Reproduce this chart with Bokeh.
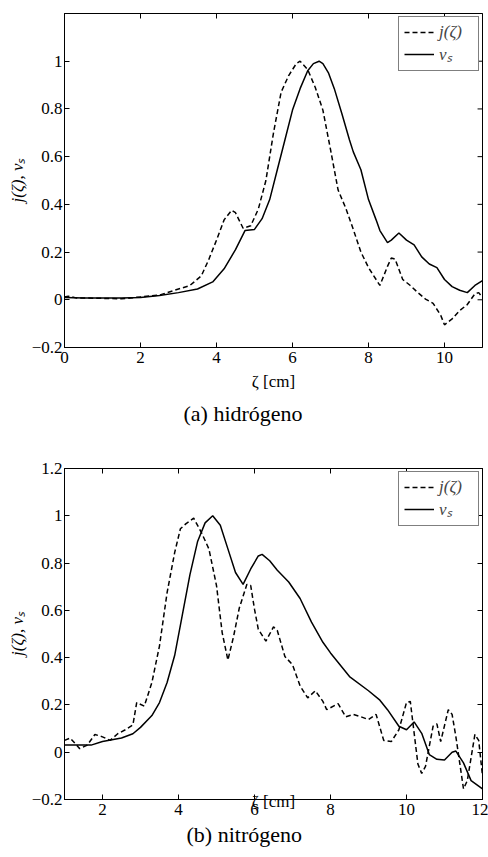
from bokeh.plotting import figure
from bokeh.models import LinearAxis, FixedTicker, Range1d, Title, Legend, LegendItem
from bokeh.layouts import column
from bokeh.embed import file_html
from bokeh.resources import INLINE

# ---------------- data: (a) hidrógeno ----------------
xv_a = [0, 0.5, 1, 1.5, 2, 2.5, 3, 3.5, 3.9, 4.2, 4.5, 4.75, 5.0, 5.2, 5.4, 5.6, 5.8, 6.0,
        6.2, 6.4, 6.55, 6.7, 6.8, 6.95, 7.1, 7.3, 7.5, 7.6, 7.8, 8.0, 8.2, 8.3, 8.5, 8.6, 8.8,
        9.0, 9.2, 9.4, 9.6, 9.8, 10.0, 10.2, 10.4, 10.6, 10.8, 11.0]
yv_a = [0.01, 0.008, 0.008, 0.008, 0.01, 0.018, 0.03, 0.045, 0.075, 0.13, 0.21, 0.29, 0.295,
        0.34, 0.42, 0.545, 0.67, 0.795, 0.885, 0.96, 0.99, 1.0, 0.99, 0.95, 0.885, 0.78, 0.67,
        0.62, 0.545, 0.42, 0.335, 0.29, 0.24, 0.25, 0.28, 0.25, 0.23, 0.18, 0.15, 0.135, 0.085,
        0.055, 0.04, 0.03, 0.06, 0.08]
xj_a = [0, 0.1, 0.3, 1, 1.5, 2, 2.5, 3.0, 3.3, 3.6, 3.8, 4.0, 4.2, 4.4, 4.5, 4.7, 4.9, 5.1,
        5.3, 5.5, 5.7, 5.9, 6.1, 6.2, 6.4, 6.6, 6.8, 7.0, 7.2, 7.4, 7.6, 7.8, 8.0, 8.2, 8.3,
        8.5, 8.6, 8.7, 8.9, 9.1, 9.3, 9.5, 9.7, 9.9, 10.0, 10.2, 10.4, 10.6, 10.8, 10.9, 11.0]
yj_a = [0.012, 0.015, 0.008, 0.006, 0.004, 0.012, 0.02, 0.045, 0.06, 0.1, 0.17, 0.25, 0.335,
        0.375, 0.365, 0.3, 0.31, 0.38, 0.5, 0.7, 0.87, 0.94, 0.99, 1.0, 0.965, 0.89, 0.795,
        0.63, 0.46, 0.385, 0.295, 0.2, 0.135, 0.085, 0.06, 0.14, 0.175, 0.17, 0.085, 0.06,
        0.03, 0.003, -0.015, -0.065, -0.105, -0.08, -0.045, -0.02, 0.025, 0.03, 0.01]

# ---------------- data: (b) nitrógeno ----------------
xv_b = [1, 1.5, 1.7, 2.0, 2.5, 2.8, 3.0, 3.3, 3.5, 3.7, 3.9, 4.1, 4.3, 4.5, 4.7, 4.9, 5.1,
        5.3, 5.5, 5.7, 5.9, 6.1, 6.2, 6.4, 6.6, 6.9, 7.2, 7.5, 7.8, 8.0, 8.5, 9.0, 9.3, 9.5,
        9.8, 10.0, 10.2, 10.4, 10.6, 10.8, 11.0, 11.2, 11.3, 11.5, 11.7, 12.0]
yv_b = [0.03, 0.03, 0.03, 0.045, 0.06, 0.078, 0.105, 0.155, 0.21, 0.295, 0.41, 0.58, 0.75,
        0.89, 0.97, 1.0, 0.96, 0.86, 0.76, 0.71, 0.775, 0.83, 0.837, 0.81, 0.77, 0.72, 0.65,
        0.55, 0.465, 0.42, 0.32, 0.26, 0.22, 0.18, 0.11, 0.095, 0.128, 0.08, -0.01, -0.03,
        -0.033, 0.0, 0.005, -0.045, -0.12, -0.155]
xj_b = [1.0, 1.15, 1.4, 1.6, 1.8, 2.0, 2.2, 2.4, 2.6, 2.8, 2.9, 3.1, 3.3, 3.5, 3.7, 3.9, 4.05,
        4.2, 4.4, 4.6, 4.8, 5.0, 5.15, 5.3, 5.45, 5.6, 5.8, 5.9, 6.0, 6.1, 6.3, 6.5, 6.6, 6.8,
        7.0, 7.2, 7.4, 7.6, 7.8, 7.9, 8.2, 8.4, 8.6, 8.8, 9.0, 9.2, 9.4, 9.6, 9.8, 10.0, 10.1,
        10.3, 10.4, 10.5, 10.7, 10.8, 10.9, 11.1, 11.2, 11.3, 11.5, 11.6, 11.8, 11.9, 12.0]
yj_b = [0.05, 0.06, 0.015, 0.03, 0.075, 0.065, 0.05, 0.078, 0.095, 0.115, 0.21, 0.195, 0.295,
        0.45, 0.675, 0.845, 0.945, 0.967, 0.99, 0.93, 0.86, 0.705, 0.505, 0.39, 0.49, 0.61,
        0.71, 0.705, 0.605, 0.52, 0.47, 0.53, 0.515, 0.405, 0.37, 0.28, 0.23, 0.26, 0.215,
        0.18, 0.205, 0.15, 0.16, 0.15, 0.138, 0.16, 0.05, 0.045, 0.095, 0.21, 0.215, -0.05,
        -0.09, -0.06, 0.11, 0.12, 0.045, 0.18, 0.16, 0.065, -0.155, -0.12, 0.075, 0.05, -0.1]

xticks_a = [0, 2, 4, 6, 8, 10]
yticks_a = [-0.2, 0, 0.2, 0.4, 0.6, 0.8, 1.0]
xticks_b = [2, 4, 6, 8, 10, 12]
yticks_b = [-0.2, 0, 0.2, 0.4, 0.6, 0.8, 1.0, 1.2]

label_j = "j(ζ)"
label_v = "vₛ"
ylabel = "j(ζ), vₛ"
xlabel = "ζ [cm]"
caption_a = "(a) hidrógeno"
caption_b = "(b) nitrógeno"

FONT = "Liberation Serif"


def fmt(v):
    s = ("%g" % v)
    return s.replace("-", "\u2212")


def panel(xj, yj, xv, yv, xr, yr, xt, yt, caption, width, height,
          bl, br, bt, bb, cap_offset, xlabel_standoff, title_standoff, right_axis):
    p = figure(width=width, height=height, output_backend="svg", toolbar_location=None,
               x_range=Range1d(*xr), y_range=Range1d(*yr),
               min_border_left=bl, min_border_right=br, min_border_top=bt,
               min_border_bottom=bb, x_axis_location=None, y_axis_location=None)
    p.grid.visible = False
    p.outline_line_color = "black"
    p.outline_line_width = 1
    p.background_fill_color = "white"
    p.border_fill_color = "white"

    rj = p.line(xj, yj, line_color="black", line_width=1.5, line_dash="5 3")
    rv = p.line(xv, yv, line_color="black", line_width=1.5)

    sides = [("below", True, True), ("left", False, True), ("above", True, False)]
    if right_axis:
        sides.append(("right", False, False))
    else:
        # inward ticks on the right edge of the frame (about 5 px long)
        tick_len = (xr[1] - xr[0]) * 5.0 / 423.0
        p.segment(x0=[xr[1]] * len(yt), x1=[xr[1] - tick_len] * len(yt), y0=yt, y1=yt,
                  line_color="black", line_width=1)

    for loc, isx, lab in sides:
        ticks = xt if isx else yt
        ax = LinearAxis(ticker=FixedTicker(ticks=ticks))
        ax.major_tick_in = 5
        ax.major_tick_out = 0
        ax.minor_tick_line_color = None
        ax.axis_line_color = "black"
        ax.major_tick_line_color = "black"
        if lab:
            ax.major_label_text_font = FONT
            ax.major_label_text_font_size = "17px"
            ax.major_label_text_color = "black"
            ax.major_label_overrides = {float(t): fmt(t) for t in ticks}
            ax.axis_label_text_font = FONT
            ax.axis_label_text_font_size = "17px"
            ax.axis_label_text_font_style = "normal"
            ax.axis_label_text_color = "black"
            if isx:
                ax.major_label_standoff = 4
                ax.axis_label = xlabel
                ax.axis_label_standoff = xlabel_standoff
            else:
                ax.major_label_standoff = 2
                ax.axis_label = ylabel
                ax.axis_label_standoff = 2
                ax.axis_label_text_font_style = "italic"
        else:
            ax.major_label_text_font_size = "0px"
            ax.major_label_text_color = None
            ax.major_label_standoff = 0
            ax.axis_label_standoff = 0
        p.add_layout(ax, loc)

    legend = Legend(items=[LegendItem(label=label_j, renderers=[rj]),
                           LegendItem(label=label_v, renderers=[rv])],
                    location="top_right")
    legend.margin = 3
    legend.padding = 5
    legend.spacing = 0
    legend.label_text_font = FONT
    legend.label_text_font_size = "17px"
    legend.label_text_font_style = "italic"
    legend.label_height = 20
    legend.glyph_height = 20
    legend.glyph_width = 30
    legend.label_width = 34
    legend.label_standoff = 5
    legend.border_line_color = "black"
    legend.border_line_width = 1
    legend.background_fill_color = "white"
    legend.background_fill_alpha = 1
    p.add_layout(legend, "center")

    t = Title(text=caption, align="left", offset=cap_offset,
              text_font=FONT, text_font_size="22px", text_font_style="normal",
              text_color="black", standoff=title_standoff)
    p.add_layout(t, "below")
    return p


pa = panel(xj_a, yj_a, xv_a, yv_a, (0, 11), (-0.2, 1.2), xticks_a, yticks_a, caption_a,
           488, 430, 64, 1, 13, 82, 119, 6, 10, False)
pb = panel(xj_b, yj_b, xv_b, yv_b, (1, 12), (-0.2, 1.2), xticks_b, yticks_b, caption_b,
           488, 427, 63, 6, 38, 58, 122, -26, 12, True)

layout = column(pa, pb, spacing=0)
open("out.html", "w").write(file_html(layout, INLINE))
